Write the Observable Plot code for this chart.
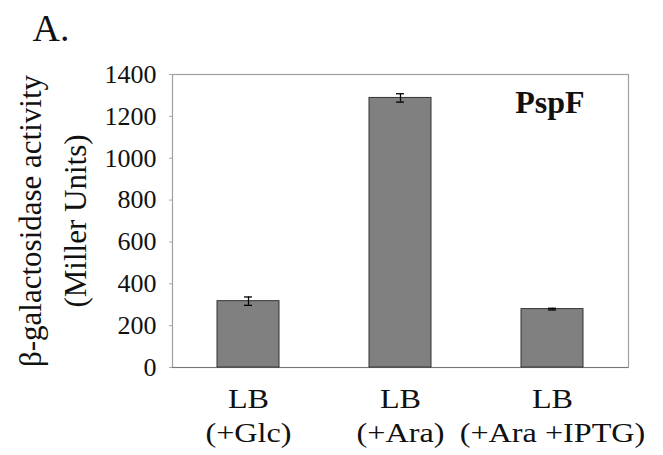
<!DOCTYPE html>
<html><head><meta charset="utf-8">
<script src="https://cdn.jsdelivr.net/npm/d3@7"></script>
<script src="https://cdn.jsdelivr.net/npm/@observablehq/plot@0.6"></script>
<style>body{margin:0;background:#fff;}</style>
</head><body><div id="chart"></div>
<script>
const categories = ["LB\n(+Glc)", "LB\n(+Ara)", "LB\n(+Ara +IPTG)"];
const activity = [317, 1288, 279];
const errors = [20, 20, 4];
const yTicks = [0, 200, 400, 600, 800, 1000, 1200, 1400];
const yTitleLines = ["β-galactosidase activity", "(Miller Units)"];
const panelLabel = ["A."];
const proteinLabel = ["PspF"];

const data = categories.map((c, i) => ({cat: c, value: activity[i], lo: activity[i] - errors[i], hi: activity[i] + errors[i]}));
const serif = "Liberation Serif";

const plot = Plot.plot({
  width: 663, height: 455,
  marginLeft: 172, marginRight: 35, marginTop: 74, marginBottom: 88,
  style: {fontFamily: serif, background: "#fff", color: "#111", overflow: "visible"},
  x: {domain: categories, paddingInner: 0.59, paddingOuter: 0.295, axis: null},
  y: {domain: [0, 1400], axis: null},
  marks: [
    Plot.frame({stroke: "#a0a0a0", strokeWidth: 1.2}),
    Plot.axisY({ticks: yTicks, tickSize: 3, tickPadding: 13, stroke: "#aaa", fill: "#111", fontSize: 26, fontFamily: serif, label: null, tickFormat: d => String(d)}),
    Plot.axisX({tickSize: 0, tickPadding: 17, fontSize: 28, lineHeight: 1.2, fill: "#111", fontFamily: serif, label: null}),
    Plot.ruleY([0], {stroke: "#777", strokeWidth: 1.2}),
    Plot.barY(data, {x: "cat", y: "value", fill: "#808080", stroke: "#333", strokeWidth: 1}),
    Plot.ruleX(data, {x: "cat", y1: "lo", y2: "hi", stroke: "#000", strokeWidth: 1.3}),
    Plot.tickY(data, {x: "cat", y: "lo", insetLeft: 27, insetRight: 27, stroke: "#000", strokeWidth: 1.3}),
    Plot.tickY(data, {x: "cat", y: "hi", insetLeft: 27, insetRight: 27, stroke: "#000", strokeWidth: 1.3}),
    Plot.text([yTitleLines[0]], {text: d => d, frameAnchor: "left", textAnchor: "middle", lineAnchor: "bottom", rotate: -90, dx: -132, fontSize: 31, fontFamily: serif, fill: "#111"}),
    Plot.text([yTitleLines[1]], {text: d => d, frameAnchor: "left", textAnchor: "middle", lineAnchor: "bottom", rotate: -90, dx: -87, fontSize: 31, fontFamily: serif, fill: "#111"}),
    Plot.text(panelLabel, {text: d => d, frameAnchor: "top-left", textAnchor: "start", lineAnchor: "bottom", dx: -140, dy: -34, fontSize: 38, fontFamily: serif, fill: "#111"}),
    Plot.text(proteinLabel, {text: d => d, frameAnchor: "top-right", textAnchor: "end", lineAnchor: "top", dx: -44, dy: 16, fontSize: 32, fontWeight: "bold", fontFamily: serif, fill: "#111"})
  ]
});
// the reference's category labels are horizontally stretched: widen them about their anchor
plot.querySelectorAll('g[aria-label="x-axis tick label"] text').forEach(t => {
  const tr = t.getAttribute("transform") || "";
  t.setAttribute("transform", tr + " scale(1.15,1)");
});
document.getElementById("chart").appendChild(plot);
</script>
</body></html>
